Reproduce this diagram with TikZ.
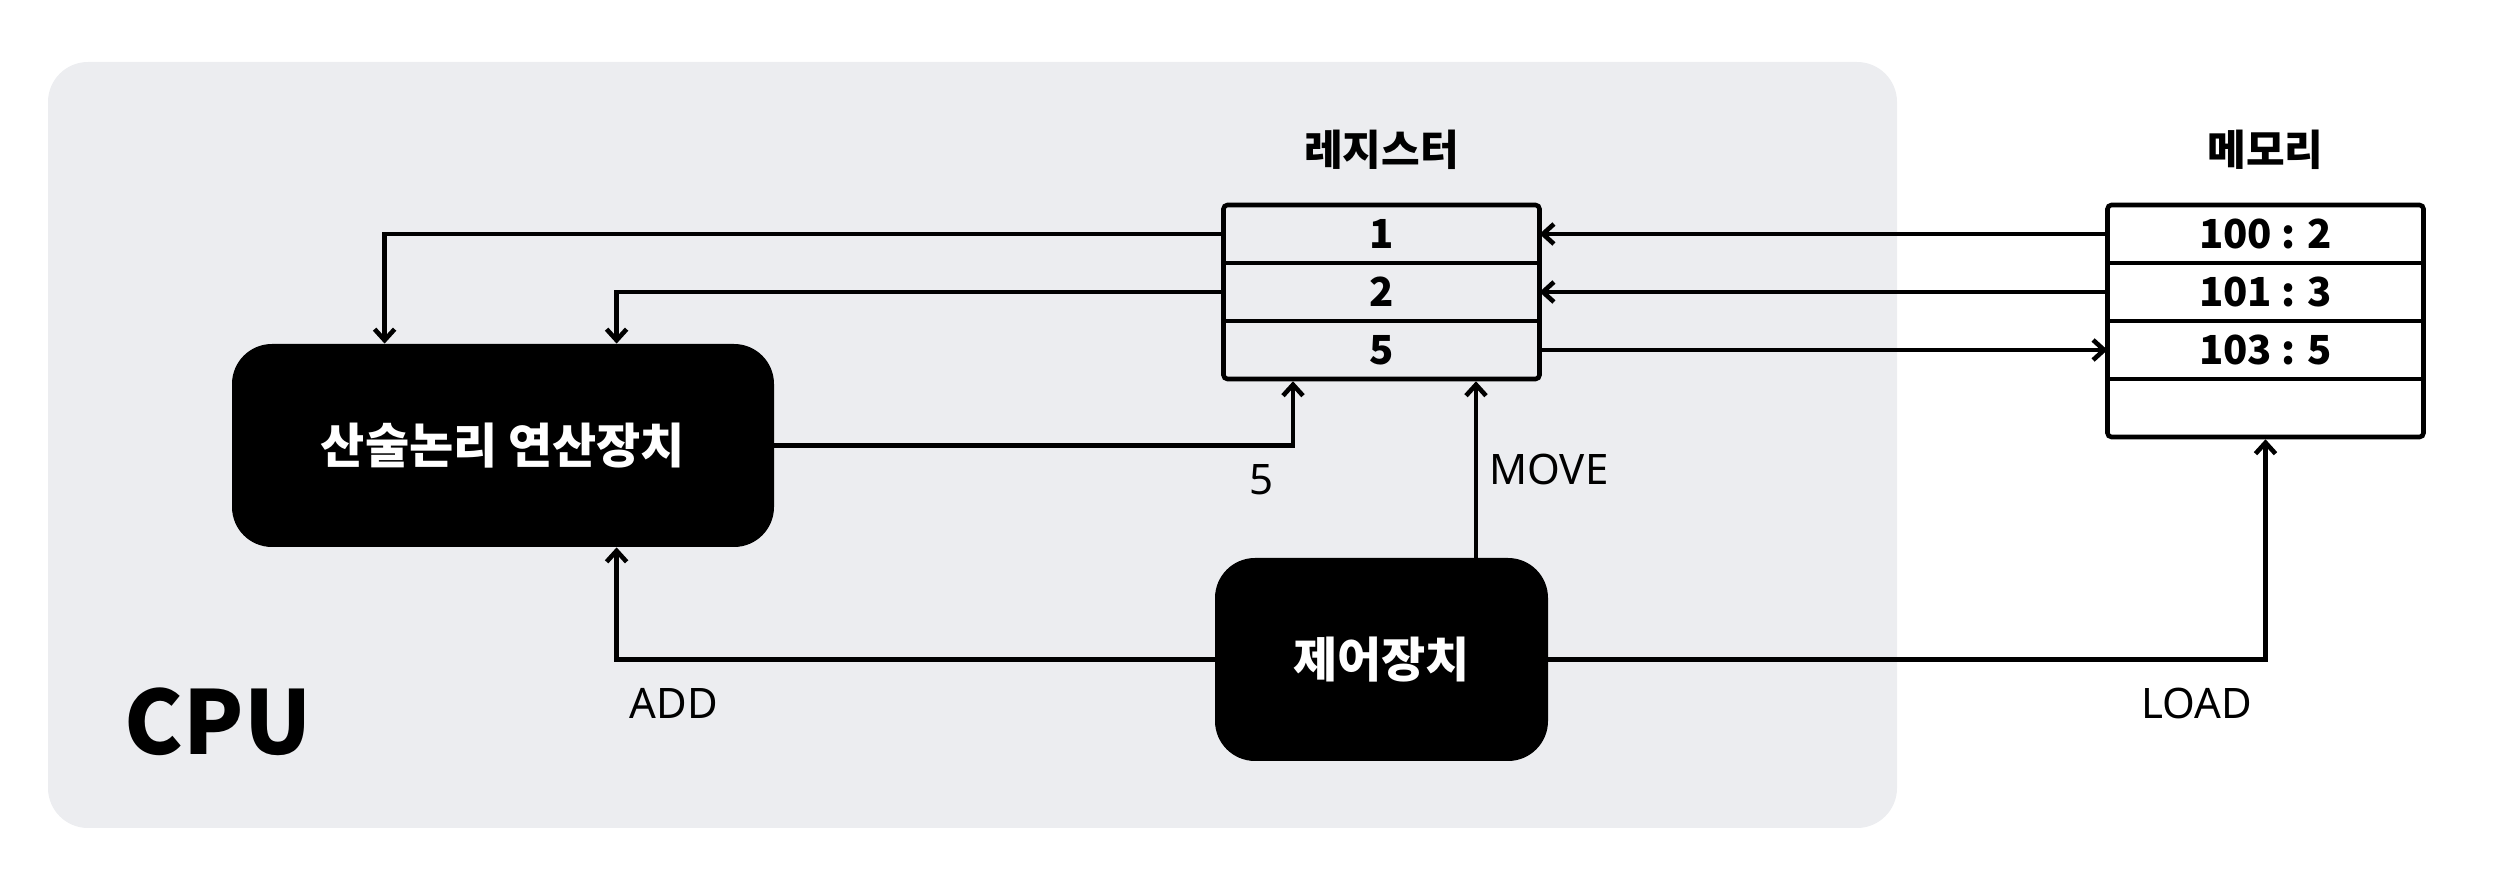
\documentclass[tikz,border=0pt]{standalone}
\usepackage{fontspec}
\setmainfont{Noto Sans}
\newfontfamily\krfont{Noto Sans CJK KR}
\usepackage{xcolor}
\usepackage{tikz}
\usetikzlibrary{positioning,fit,arrows.meta}
\definecolor{cpubg}{HTML}{ECEDF0}
\tikzstyle{unit} = [rectangle, rounded corners=20pt, fill=black, text=white, inner sep=0pt, minimum height=101.5pt, font=\krfont\bfseries\fontsize{24}{28}\selectfont]
\tikzstyle{regrow} = [rectangle, minimum width=158pt, minimum height=29pt, inner sep=0pt, outer sep=0pt, node distance=29pt, font=\krfont\bfseries\fontsize{20}{24}\selectfont]
\tikzstyle{memrow} = [regrow, fill=white]
\tikzstyle{frame} = [rectangle, rounded corners=2pt, draw=black, line width=2.3pt, inner sep=0pt]
\tikzstyle{title} = [node distance=42pt, font=\krfont\bfseries\fontsize{21}{24}\selectfont]
\tikzstyle{tag} = [inner sep=0pt, font=\fontsize{21}{24}\selectfont]
\tikzstyle{conn} = [line width=2.3pt, -{Straight Barb[length=5.5pt,width=10pt]}]
\begin{document}
\begin{tikzpicture}[x=0.5pt, y=-0.5pt]
    \useasboundingbox (0,0) rectangle (2512,886);

    % CPU area
    \fill[cpubg, rounded corners=20pt] (48,62) rectangle (1897,828);
    \node (cpu) [inner sep=0pt, font=\krfont\bfseries\fontsize{44}{50}\selectfont] at (218,722) {CPU};

    % Units
    \node (alu) [unit, minimum width=271pt] at (503,445.5) {산술논리 연산장치};
    \node (cu) [unit, minimum width=166.5pt] at (1381.5,659.5) {제어장치};

    % Registers
    \node (reg1) [regrow] at (1381.5,234) {1};
    \node (reg2) [regrow, below of=reg1] {2};
    \node (reg3) [regrow, below of=reg2] {5};
    \node (regbox) [frame, fit=(reg1)(reg3)] {};
    \draw[line width=2.3pt] (reg1.south west) -- (reg1.south east);
    \draw[line width=2.3pt] (reg2.south west) -- (reg2.south east);
    \node (regtitle) [title, above of=reg1] {레지스터};

    % Memory
    \node (mem1) [memrow] at (2265.5,234) {100 : 2};
    \node (mem2) [memrow, below of=mem1] {101 : 3};
    \node (mem3) [memrow, below of=mem2] {103 : 5};
    \node (mem4) [memrow, below of=mem3] {};
    \node (membox) [frame, fit=(mem1)(mem4)] {};
    \draw[line width=2.3pt] (mem1.south west) -- (mem1.south east);
    \draw[line width=2.3pt] (mem2.south west) -- (mem2.south east);
    \draw[line width=2.3pt] (mem3.south west) -- (mem3.south east);
    \node (memtitle) [title, above of=mem1] {메모리};

    % Arrows
    \coordinate (movein) at ([xshift=47.25pt]regbox.south);
    \draw[conn] (reg1.west) -| ([xshift=76.5pt]alu.north west);
    \draw[conn] (reg2.west) -| ([xshift=192.5pt]alu.north west);
    \draw[conn] (alu.east) -| ([xshift=-44.25pt]regbox.south);
    \draw[conn] (cu.north -| movein) -- (movein);
    \draw[conn] (cu.west) -| ([xshift=192.5pt]alu.south west);
    \draw[conn] (cu.east) -| (membox.south);
    \draw[conn] (mem1.west) -- (reg1.east);
    \draw[conn] (mem2.west) -- (reg2.east);
    \draw[conn] (reg3.east) -- (mem3.west);

    % Labels
    \node (five) [tag] at (1261,480) {5};
    \node (move) [tag, anchor=west] at (1489,469) {MOVE};
    \node (add) [tag] at (674,703) {ADD};
    \node (load) [tag] at (2197,703) {LOAD};

\end{tikzpicture}
\end{document}
